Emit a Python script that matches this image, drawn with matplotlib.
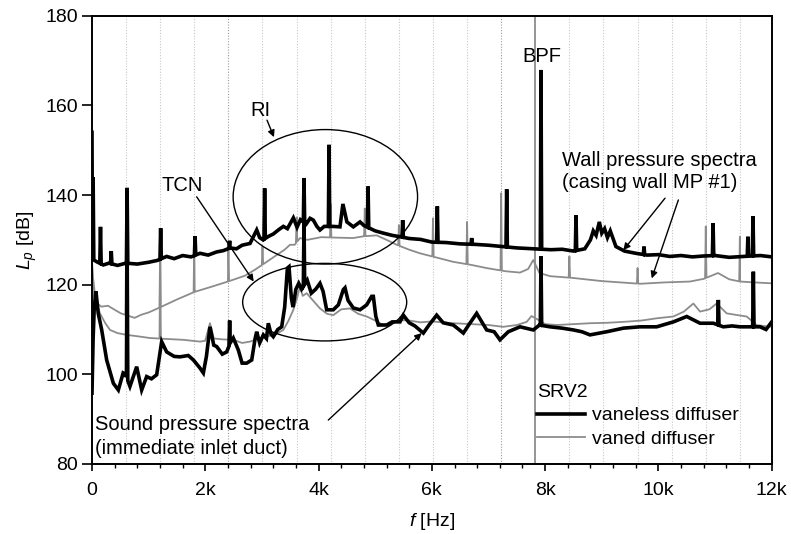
import numpy as np
import matplotlib
matplotlib.use("Agg")
import matplotlib.pyplot as plt
from matplotlib.patches import Ellipse
from matplotlib.lines import Line2D

plt.rcParams['font.family'] = ['Liberation Sans', 'DejaVu Sans']
plt.rcParams['mathtext.fontset'] = 'custom'
plt.rcParams['mathtext.rm'] = 'Liberation Sans'
plt.rcParams['mathtext.it'] = 'Liberation Sans:italic'

# ---------------- data ----------------
# Wall pressure, vaneless diffuser (black)
wall_vl_f = [0, 8, 20, 32, 100, 200, 300, 450, 600, 800, 1000, 1150, 1318, 1450, 1600, 1750, 1907,
             2050, 2200, 2320, 2437, 2550, 2650, 2790, 2908, 2960, 3020, 3120, 3200, 3300, 3378, 3450,
             3555, 3620, 3680, 3780, 3850, 3908, 3970, 4025, 4100, 4250, 4378, 4430, 4500, 4614, 4732,
             4800, 5000, 5143, 5300, 5438, 5600, 5800, 6000, 6250, 6500, 6750, 7000, 7250, 7500, 7800,
             8100, 8300, 8500, 8700, 8800, 8850, 8900, 8957, 9000, 9050, 9100, 9150, 9250, 9400, 9600,
             9800, 10000, 10200, 10400, 10600, 10800, 11000, 11250, 11500, 11800, 12000]
wall_vl_db = [154, 127, 144, 125.5, 125, 124.4, 124.8, 124.3, 124.8, 124.6, 125, 125.4, 126.3, 125.8,
              126.5, 126.2, 127, 126.6, 127.3, 127.6, 128.2, 128.0, 128.8, 129.2, 132.2, 130.5, 130,
              130.8, 131.3, 132.3, 133, 132.5, 134.9, 132.8, 134.5, 133.5, 134.8, 134.4, 133, 132.2,
              133, 133, 132.9, 138, 134, 132.9, 134, 133.2, 132, 131.5, 131, 130.7, 130.3, 130.1,
              129.5, 129.4, 129.1, 129.0, 128.8, 128.5, 128.2, 128, 127.8, 127.9, 127.5, 128, 130,
              132, 131, 134, 131.5, 132.5, 130.5, 132, 128.5, 127.5, 127.0, 126.6, 126.7, 126.3,
              126.5, 126.2, 126.4, 126.5, 126.1, 126.3, 126.5, 126.2]
wall_vl_pk_f = [150, 340, 620, 1212, 1820, 2430, 3048, 3743, 4185, 4874, 5485, 6097, 6703, 7321, 7927,
                8545, 9746, 10965, 11580, 11670]
wall_vl_pk_db = [132.9, 127.5, 141.6, 132.6, 130.8, 129.8, 141.5, 143.8, 151.2, 141.9, 134.4, 137.5,
                 130.4, 141.3, 167.9, 135.5, 128.5, 133.7, 130.7, 135.3]

# Wall pressure, vaned diffuser (grey)
wall_vd_f = [0, 20, 47, 165, 282, 400, 510, 753, 871, 1000, 1212, 1500, 1813, 2100, 2400, 2700, 2872,
             3050, 3225, 3400, 3496, 3578, 3672, 3800, 3967, 4043, 4300, 4610, 4800, 5026, 5200, 5380,
             5600, 5790, 6100, 6376, 6700, 6968, 7300, 7556, 7700, 7790, 7900, 8086, 8492, 9000, 9675,
             10100, 10558, 10800, 11052, 11250, 11440, 11700, 12000]
wall_vd_db = [125, 119, 116.2, 115.1, 115.3, 114.4, 113.6, 112.6, 113.3, 113.8, 115, 116.7, 118.4,
              119.5, 120.7, 122, 123.3, 124.8, 126.3, 127.8, 128.9, 128.9, 130.4, 130, 130.4, 130.6,
              130.5, 130.4, 130.8, 131, 130, 128.9, 127.8, 127, 126, 125.1, 124.4, 123.7, 123, 122.7,
              123.5, 125.5, 122.6, 121.9, 121.5, 120.8, 120.2, 120.5, 120.7, 121.3, 122.6, 121.2,
              120.7, 120.5, 120.3]
wall_vd_pk_f = [602, 1204, 1806, 2408, 3010, 3612, 4214, 4816, 5418, 6020, 6622, 7224, 8428, 9632,
                10836, 11438]
wall_vd_pk_db = [128, 130, 130, 129.6, 128.5, 135, 138, 137, 133.3, 134.8, 134, 140.4, 126.3, 123.7,
                 133, 130.7]

# Sound pressure, vaneless diffuser (black)
snd_vl_f = [0, 20, 40, 70, 110, 170, 259, 377, 465, 550, 590, 670, 789, 877, 965, 1050, 1142, 1230,
            1318, 1450, 1554, 1700, 1790, 1900, 1966, 2020, 2083, 2150, 2201, 2300, 2378, 2440, 2495,
            2584, 2650, 2731, 2820, 2880, 2908, 2960, 3025, 3080, 3113, 3160, 3201, 3280, 3349, 3402,
            3450, 3478, 3520, 3549, 3600, 3650, 3700, 3800, 3872, 3950, 4025, 4080, 4143, 4260, 4350,
            4437, 4467, 4520, 4614, 4732, 4850, 4938, 4967, 5010, 5055, 5203, 5300, 5438, 5497, 5600,
            5700, 5850, 5950, 6085, 6200, 6379, 6556, 6650, 6791, 6968, 7100, 7203, 7350, 7556, 7792,
            7900, 8086, 8300, 8498, 8650, 8792, 9087, 9381, 9675, 9970, 10264, 10500, 10735, 10970,
            11146, 11300, 11440, 11794, 11900, 12000]
snd_vl_db = [95.8, 108, 115, 118.5, 113.6, 110, 103.2, 98, 96.5, 100.3, 100, 97.3, 101.7, 96.5, 99.5,
             99, 99.9, 107.3, 105, 104, 103.9, 104.2, 103.2, 101.5, 100.3, 104, 110.6, 106.5, 106.2,
             104.5, 105, 107, 108.1, 105.4, 102.5, 102.5, 103.2, 108, 109.5, 107, 108.8, 108, 111.4,
             109, 108.4, 110, 110.6, 115, 123.7, 124, 117, 115, 119, 120.3, 119, 121, 118.1, 119,
             120.3, 118.5, 114.4, 114.4, 115.5, 118.9, 119.3, 116.5, 114.8, 114.4, 115.5, 117.4,
             117.4, 113, 111, 111, 111.7, 111.7, 113.2, 111.5, 110.8, 109.2, 111, 113.2, 111.5, 111,
             109.2, 111, 113.6, 109.9, 109.5, 107.7, 109.5, 110.6, 109.9, 111, 110.6, 110.3, 109.9,
             109.5, 108.8, 109.5, 110.3, 110.6, 110.6, 111.7, 112.9, 111.4, 111.4, 110.6, 110.8,
             110.6, 110.6, 110, 111.7]
snd_vl_pk_f = [620, 2430, 3743, 7927, 11058, 11676]
snd_vl_pk_db = [130, 112, 134, 126.3, 116.6, 122.9]

# Sound pressure, vaned diffuser (grey)
snd_vd_f = [0, 15, 30, 60, 141, 230, 318, 450, 612, 800, 1024, 1300, 1612, 1907, 2000, 2083, 2150,
            2300, 2495, 2650, 2790, 2950, 3084, 3250, 3378, 3470, 3555, 3620, 3672, 3720, 3790, 3900,
            4025, 4150, 4260, 4400, 4555, 4700, 4850, 5000, 5143, 5300, 5438, 5600, 5800, 6000, 6379,
            6700, 7000, 7260, 7500, 7674, 7760, 7900, 8000, 8204, 8500, 8792, 9100, 9381, 9700, 9970,
            10264, 10450, 10617, 10735, 10900, 11029, 11205, 11400, 11558, 11735, 11970]
snd_vd_db = [125, 122, 120.3, 117, 113.6, 111.5, 109.9, 109.2, 108.8, 108.5, 108.1, 107.9, 107.7,
             107.3, 107.5, 111.4, 108, 107.8, 107.7, 107, 107.3, 108, 108.4, 109, 109.9, 112, 114.4,
             117, 119.6, 117.5, 118.1, 116.5, 114.7, 113.5, 113.2, 114.5, 114.7, 113.5, 112.9, 112,
             111, 111.5, 112.1, 112, 111.6, 111.8, 111.4, 111.2, 111, 110.6, 111, 111.7, 113, 112,
             111.2, 111, 111.2, 111.4, 111.5, 111.7, 112, 112.5, 112.9, 114, 115.8, 114, 114.5, 115.8,
             113.6, 113.2, 112.9, 111, 110.6]
snd_vd_pk_f = [1204]
snd_vd_pk_db = [126]

bpf_vaned = 7826          # grey BPF line (vaned diffuser), runs off-scale
rotor_harm = 602          # dotted grid: rotor-frequency harmonics
n_harm = 19

x_ticks = [0, 2000, 4000, 6000, 8000, 10000, 12000]
x_tick_labels = ['0', '2k', '4k', '6k', '8k', '10k', '12k']
y_ticks = [80, 100, 120, 140, 160, 180]


def with_peaks(bf, bd, pf, pd, hw=12.0):
    bf = np.asarray(bf, float); bd = np.asarray(bd, float)
    pf = np.asarray(pf, float); pd = np.asarray(pd, float)
    f = np.concatenate([bf, pf - hw, pf, pf + hw])
    d = np.concatenate([bd, np.interp(pf - hw, bf, bd), pd, np.interp(pf + hw, bf, bd)])
    o = np.argsort(f, kind='stable')
    return f[o], d[o]


BLACK = '#000000'
GREY = '#8c8c8c'

fig = plt.figure(figsize=(7.91, 5.34), dpi=100)
ax = fig.add_axes([0.1163, 0.1311, 0.9756 - 0.1163, 0.9706 - 0.1311])

# dotted harmonic grid
for k in range(1, n_harm + 1):
    fk = k * rotor_harm
    if k == 13:
        continue
    col = '#9a9a9a' if k in (4, 12) else '#c8c8c8'
    ax.axvline(fk, color=col, lw=0.8, ls=(0, (1, 1.5)), zorder=0)
ax.axvline(bpf_vaned, color=GREY, lw=1.3, zorder=1)

f, d = with_peaks(wall_vd_f, wall_vd_db, wall_vd_pk_f, wall_vd_pk_db)
ax.plot(f, d, color=GREY, lw=1.3, zorder=2)
f, d = with_peaks(snd_vd_f, snd_vd_db, snd_vd_pk_f, snd_vd_pk_db)
ax.plot(f, d, color=GREY, lw=1.3, zorder=2)
f, d = with_peaks(wall_vl_f, wall_vl_db, wall_vl_pk_f, wall_vl_pk_db)
ax.plot(f, d, color=BLACK, lw=2.6, zorder=3, solid_joinstyle='miter')
f, d = with_peaks(snd_vl_f, snd_vl_db, snd_vl_pk_f, snd_vl_pk_db)
ax.plot(f, d, color=BLACK, lw=2.6, zorder=3, solid_joinstyle='miter')

# ellipses
ax.add_patch(Ellipse((4120, 139.6), 3256, 30.0, fill=False, lw=1.0, ec='black', zorder=4))
ax.add_patch(Ellipse((4108, 116.1), 2896, 17.3, fill=False, lw=1.0, ec='black', zorder=4))

fs = 14
fa = 14.5
arrow = dict(arrowstyle='-|>', color='black', lw=1.0, mutation_scale=10, shrinkA=0, shrinkB=0)
ax.text(7940, 170.9, 'BPF', ha='center', va='center', fontsize=fa)
ax.text(2966, 158.9, 'RI', ha='center', va='center', fontsize=fa)
ax.annotate('', xy=(3213, 152.9), xytext=(3090, 156.7), arrowprops=arrow)
ax.text(1584, 142.2, 'TCN', ha='center', va='center', fontsize=fa)
ax.annotate('', xy=(2855, 120.7), xytext=(1848, 139.6), arrowprops=arrow)
ax.text(8293, 147.8, 'Wall pressure spectra', ha='left', va='center', fontsize=fa)
ax.text(8293, 142.7, '(casing wall MP #1)', ha='left', va='center', fontsize=fa)
ax.annotate('', xy=(9381, 127.7), xytext=(10117, 139.3), arrowprops=arrow)
ax.annotate('', xy=(9882, 121.4), xytext=(10352, 138.9), arrowprops=arrow)
ax.text(53, 88.7, 'Sound pressure spectra', ha='left', va='center', fontsize=fa)
ax.text(53, 83.5, '(immediate inlet duct)', ha='left', va='center', fontsize=fa)
ax.annotate('', xy=(5821, 109.2), xytext=(4172, 89.8), arrowprops=arrow)

# legend
handles = [Line2D([], [], color=BLACK, lw=2.6), Line2D([], [], color=GREY, lw=1.3)]
leg = ax.legend(handles, ['vaneless diffuser', 'vaned diffuser'], title='SRV2', loc='lower left',
                bbox_to_anchor=(0.6542, 0.036), frameon=False, fontsize=fs, title_fontsize=fs,
                handlelength=2.5, handletextpad=0.35, borderpad=0, borderaxespad=0,
                labelspacing=0.3, alignment='left')

ax.set_xlim(0, 12000)
ax.set_ylim(80, 180)
ax.set_xticks(x_ticks)
ax.set_xticklabels(x_tick_labels)
ax.set_xticks(np.arange(0, 12001, 400), minor=True)
ax.set_yticks(y_ticks)
ax.tick_params(axis='both', which='major', labelsize=fs, direction='out', width=1.2, color='black')
ax.tick_params(axis='x', which='major', length=5, pad=8)
ax.tick_params(axis='y', which='major', length=7, pad=3)
ax.tick_params(axis='x', which='minor', length=3, width=1.0)
for s in ax.spines.values():
    s.set_linewidth(1.4)

ax.set_xlabel(r'$\mathit{f}$ [Hz]', fontsize=fs)
ax.set_ylabel(r'$\mathit{L}_{\mathit{p}}$ [dB]', fontsize=fs)
ax.xaxis.set_label_coords(0.5, -0.104)
ax.yaxis.set_label_coords(-0.078, 0.50)

fig.savefig('out.png', dpi=100)
